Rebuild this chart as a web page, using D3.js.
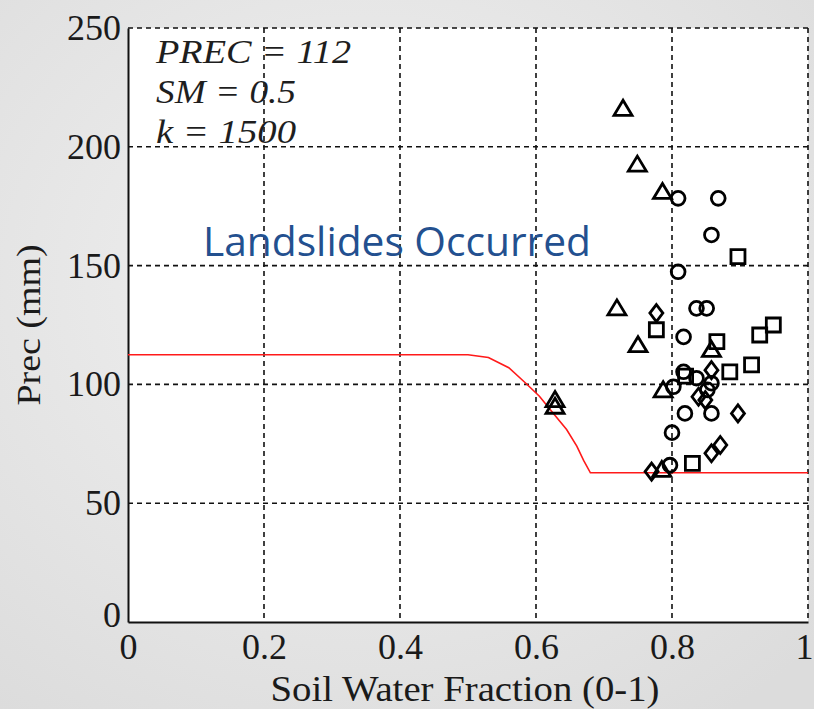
<!DOCTYPE html>
<html>
<head>
<meta charset="utf-8">
<script src="https://cdn.jsdelivr.net/npm/d3@7"></script>
<style>
  html, body { margin:0; padding:0; }
  body { width:814px; height:709px; overflow:hidden; background:#e9e9e9; }
  svg text { font-family:"Liberation Serif", "DejaVu Serif", "Times New Roman", serif; fill:#1a1a1a; }
</style>
</head>
<body>
<svg id="chart" width="814" height="709"></svg>
<script>
// threshold curve (soil water fraction, mm)
const curveX = [0, 0.5, 0.53, 0.56, 0.585, 0.605, 0.625, 0.645, 0.66, 0.67, 0.68, 1];
const curveY = [112.5, 112.5, 111.3, 107, 100.5, 95, 88, 81, 74, 68, 62.8, 62.8];

// landslide events, one array per marker type
const triangles = [[0.728,216],[0.749,192.5],[0.786,181],[0.719,132],[0.750,116.5],[0.628,93.4],[0.628,90.6],
  [0.787,97.5],[0.858,114.5],[0.785,64]];
const circles = [[0.809,178.3],[0.868,178.3],[0.858,162.9],[0.809,147.4],[0.836,132],[0.851,132],[0.817,120],
  [0.817,105.3],[0.836,102.6],[0.802,99],[0.852,97.7],[0.858,100.5],[0.819,87.8],[0.858,87.8],[0.800,79.7],[0.797,66]];
const diamonds = [[0.777,130],[0.858,106],[0.839,94.8],[0.849,93.4],[0.897,87.8],[0.858,71],[0.871,74.5],[0.770,63.3]];
const squares = [[0.897,153.8],[0.949,125],[0.929,120.8],[0.866,118],[0.777,123],[0.917,108.2],[0.885,105.3],
  [0.830,66.8],[0.820,103.5]];

const xTicks = [0, 0.2, 0.4, 0.6, 0.8, 1];
const yTicks = [0, 50, 100, 150, 200, 250];
const params = ["PREC = 112", "SM = 0.5", "k = 1500"];

const svg = d3.select("#chart");
const m = {left:128, right:808, top:28, bottom:622};
const x = d3.scaleLinear().domain([0, 1]).range([m.left, m.right]);
const y = d3.scaleLinear().domain([0, 250]).range([m.bottom, m.top]);
const serif = "'Liberation Serif', 'DejaVu Serif', 'Times New Roman', serif";

// light mottled backdrop + white plot area
const defs = svg.append("defs");
const grad = defs.append("radialGradient").attr("id", "bg").attr("cx", "45%").attr("cy", "40%").attr("r", "75%");
grad.append("stop").attr("offset", "0%").attr("stop-color", "#f2f2f2");
grad.append("stop").attr("offset", "100%").attr("stop-color", "#dcdcdc");
svg.append("rect").attr("width", 814).attr("height", 709).attr("fill", "url(#bg)");
svg.append("rect").attr("x", m.left).attr("y", m.top).attr("width", m.right-m.left).attr("height", m.bottom-m.top).attr("fill", "#fff");

// dashed grid (also forms top & right border)
const grid = svg.append("g").attr("stroke", "#111").attr("stroke-width", 1.6).attr("stroke-dasharray", "5,4");
grid.selectAll("line.v").data(xTicks.slice(1)).join("line").attr("class", "v")
  .attr("x1", d => x(d)).attr("x2", d => x(d)).attr("y1", m.top).attr("y2", m.bottom);
grid.selectAll("line.h").data(yTicks.slice(1)).join("line").attr("class", "h")
  .attr("x1", m.left).attr("x2", m.right).attr("y1", d => y(d)).attr("y2", d => y(d));

// solid left & bottom axes
const xAxis = svg.append("g").attr("transform", `translate(0,${m.bottom})`)
  .call(d3.axisBottom(x).tickValues(xTicks).tickFormat(d => d3.format("~g")(d)).tickSize(0).tickPadding(10));
const yAxis = svg.append("g").attr("transform", `translate(${m.left},0)`)
  .call(d3.axisLeft(y).tickValues(yTicks).tickSize(0).tickPadding(7));
[xAxis, yAxis].forEach(a => {
  a.attr("font-family", null).attr("font-size", null);
  a.select(".domain").attr("stroke", "#111").attr("stroke-width", 2);
  a.selectAll("text").style("font-family", serif).style("font-size", "36px").style("fill", "#1a1a1a");
});
xAxis.selectAll("text").attr("dy", "0.76em");
xAxis.selectAll(".tick").filter(d => d === 1).select("text").attr("text-anchor", "end").attr("x", 5);
yAxis.selectAll("text").attr("dy", "0.32em");
yAxis.selectAll(".tick").filter(d => d === 0).select("text").attr("dy", "0.12em");

svg.append("text").attr("x", 465).attr("y", 701).attr("text-anchor", "middle")
  .attr("textLength", 389).attr("lengthAdjust", "spacingAndGlyphs")
  .style("font-family", serif).style("font-size", "35px").text("Soil Water Fraction (0-1)");
svg.append("text").attr("transform", "translate(40,325) rotate(-90)").attr("text-anchor", "middle")
  .attr("textLength", 161).attr("lengthAdjust", "spacingAndGlyphs")
  .style("font-family", serif).style("font-size", "34px").text("Prec (mm)");

// threshold line
const line = d3.line().x(d => x(d)).y((d, i) => y(curveY[i]));
svg.append("path").attr("d", line(curveX)).attr("fill", "none").attr("stroke", "#ff1a1a").attr("stroke-width", 1.6);

// markers
const shapes = {
  tri: "M0,-8.5L9,6.5L-9,6.5Z",
  dia: "M0,-8.5L6.5,0L0,8.5L-6.5,0Z",
  sq: "M-7,-7H7V7H-7Z",
  circ: d3.symbol(d3.symbolCircle, 150)()
};
const groups = [[triangles, "tri"], [circles, "circ"], [diamonds, "dia"], [squares, "sq"]];
const marks = svg.append("g").attr("fill", "none").attr("stroke", "#000").attr("stroke-width", 2.8);
groups.forEach(([pts, k]) => {
  marks.append("g").selectAll("path").data(pts).join("path")
    .attr("transform", d => `translate(${x(d[0])},${y(d[1])})`).attr("d", shapes[k]);
});

// annotations
const paramWidths = [195, 140, 140];
svg.append("g").selectAll("text").data(params).join("text")
  .attr("x", 156).attr("y", (d, i) => 63 + i*40)
  .attr("textLength", (d, i) => paramWidths[i]).attr("lengthAdjust", "spacingAndGlyphs")
  .style("font-family", serif).style("font-size", "34px").style("font-style", "italic").style("fill", "#1e1e1e")
  .text(d => d);
svg.append("text").attr("x", 203).attr("y", 256).attr("textLength", 388).attr("lengthAdjust", "spacingAndGlyphs")
  .style("font-family", "'Open Sans', 'Noto Sans', sans-serif").style("font-size", "40px").style("fill", "#23508f")
  .text("Landslides Occurred");
</script>
</body>
</html>
